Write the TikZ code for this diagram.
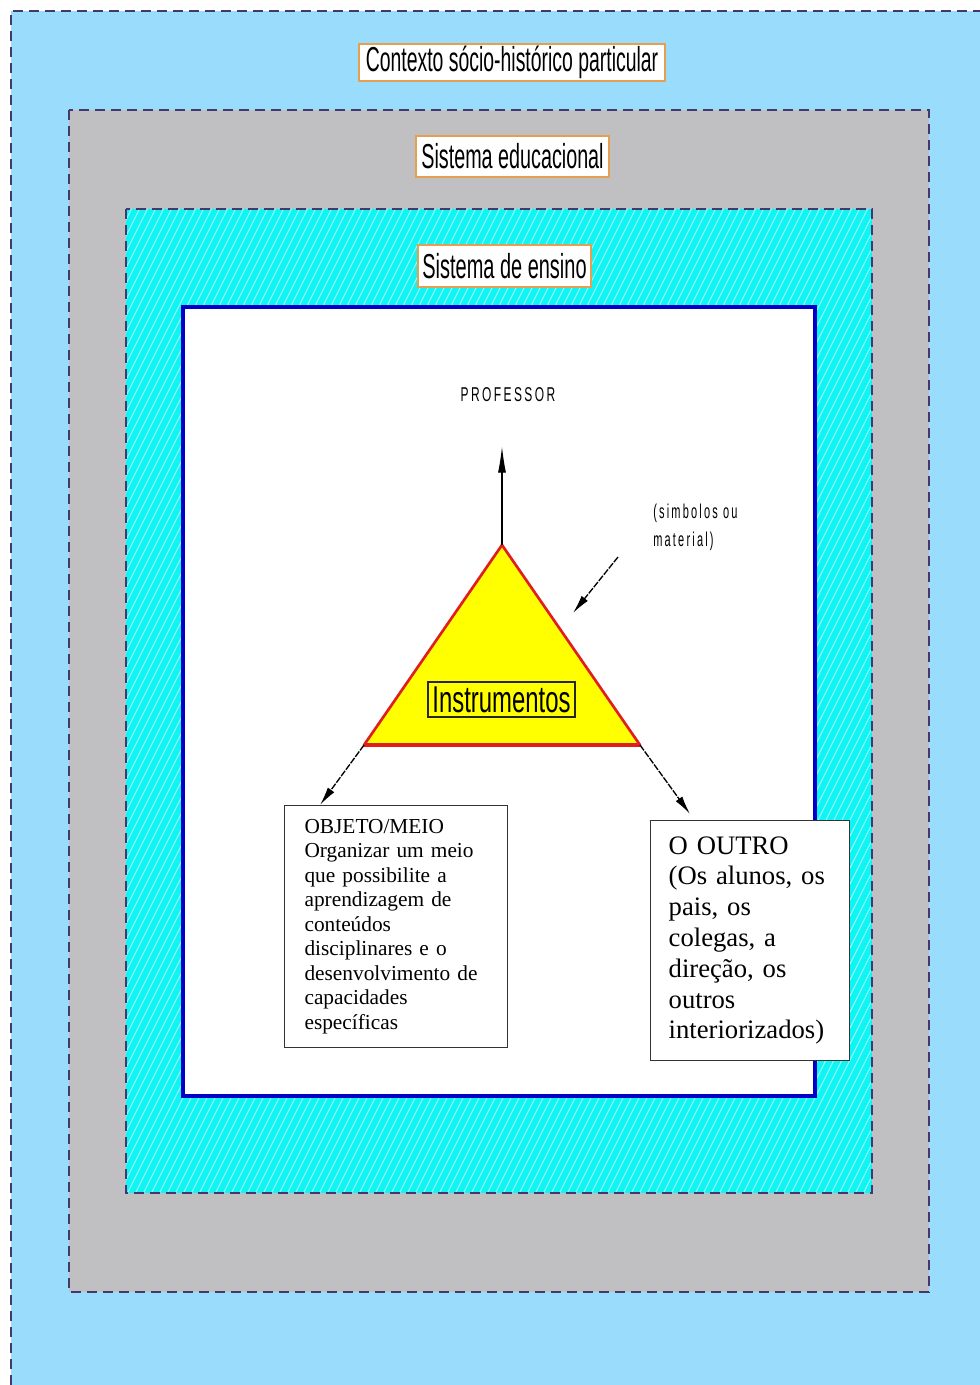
\documentclass[tikz,border=0pt]{standalone}
\usepackage{fontspec}
\setmainfont{Liberation Serif}
\setsansfont{Liberation Sans}
\newfontfamily\spacedsans[LetterSpace=20]{Liberation Sans}
\usepackage{graphicx}
\usetikzlibrary{arrows.meta}
\definecolor{ctxblue}{RGB}{153,220,252}
\definecolor{sysgray}{RGB}{192,192,194}
\definecolor{enscyan}{RGB}{16,244,244}
\definecolor{hatchcol}{RGB}{150,250,250}
\definecolor{dashcol}{RGB}{70,55,110}
\definecolor{boxblue}{RGB}{0,0,200}
\definecolor{lblorange}{RGB}{228,160,80}
\definecolor{triyellow}{RGB}{255,255,0}
\definecolor{trired}{RGB}{225,30,30}
\newcommand\condtxt[3]{\scalebox{#1}[1]{\fontsize{#2}{#2}\selectfont #3}}
\begin{document}
\begin{tikzpicture}[x=0.75pt,y=-0.75pt,
  dashborder/.style={draw=dashcol, line width=1.5pt, dash pattern=on 7.5pt off 4.5pt},
  labelbox/.style={draw=lblorange, line width=1.1pt, fill=white, inner sep=0pt, font=\sffamily},
  textbox/.style={draw=black!80, line width=0.8pt, fill=white, anchor=north west, align=left, font=\rmfamily},
  arrowline/.style={draw=black, line width=1pt, -{Latex[length=14pt,width=6pt]}},
  uparrow/.style={draw=black, line width=1pt, -{Latex[length=20pt,width=6pt]}},
  diagline/.style={arrowline, dash pattern=on 5pt off 1pt},
]
\useasboundingbox (0,0) rectangle (980,1385);
\fill[white] (0,0) rectangle (980,1385);
% outer context
\fill[ctxblue] (11,11) rectangle (980,1385);
\draw[dashborder] (11,1385) -- (11,11) -- (980,11);
% educational system
\draw[dashborder, fill=sysgray] (69,110) rectangle (929,1292);
% teaching system (hatched cyan)
\fill[enscyan] (126,209) rectangle (872,1193);
\begin{scope}
  \clip (126,209) rectangle (872,1193);
  \foreach \x in {-380,-372,...,880} \draw[hatchcol, line width=0.8pt] (\x,1200) -- ++(500,-1000);
\end{scope}
\draw[dashborder] (126,209) rectangle (872,1193);
% inner white area
\draw[draw=boxblue, line width=3pt, fill=white] (183,307) rectangle (815,1096);
% labels
\node[labelbox, minimum width=229.5pt, minimum height=27.75pt] (ctx) at (512,62.5) {\condtxt{0.56}{26pt}{Contexto sócio-histórico particular}};
\node[labelbox, minimum width=144.75pt, minimum height=30.75pt] (edu) at (512.5,156.5) {\condtxt{0.57}{26pt}{Sistema educacional}};
\node[labelbox, minimum width=129.75pt, minimum height=31.5pt] (ens) at (504.5,266) {\condtxt{0.576}{26pt}{Sistema de ensino}};
% triangle
\coordinate (A) at (502,545);
\coordinate (B) at (364,745);
\coordinate (C) at (640,745);
\filldraw[fill=triyellow, draw=trired, line width=2pt, line join=round] (A) -- (B) -- (C) -- cycle;
\draw[trired, line width=2.8pt] (B) -- (C);
\node[draw=black!85, line width=0.9pt, inner sep=0pt, minimum width=110.25pt, minimum height=26.25pt, font=\sffamily] (instr) at (501.5,699.5) {\condtxt{0.64}{28pt}{Instrumentos}};
% professor
\node[font=\spacedsans, inner sep=0pt] (prof) at (508,395) {\condtxt{0.6}{15pt}{PROFESSOR}};
\node[font=\spacedsans\fontsize{15pt}{21pt}\selectfont, inner sep=0pt, anchor=north west, align=left] (sym) at (653,504) {\condtxt{0.55}{15pt}{(simbolos ou}\\\condtxt{0.55}{15pt}{material)}};
% text boxes
\node[textbox, font=\fontsize{16pt}{18.4pt}\selectfont, text width=137pt, inner xsep=15pt, inner ysep=10pt, minimum height=181.5pt] (obj) at (284,805) {OBJETO/MEIO\\Organizar um meio\\que possibilite a\\aprendizagem de\\conteúdos\\disciplinares e o\\desenvolvimento de\\capacidades\\específicas};
\node[textbox, font=\fontsize{20pt}{23.1pt}\selectfont, text width=122pt, inner xsep=13.6pt, inner ysep=11.5pt, minimum height=180pt] (outro) at (650,820) {O OUTRO\\(Os alunos, os\\pais, os\\colegas, a\\direção, os\\outros\\interiorizados)};
% arrows
\coordinate (profTip) at (502,446);
\draw[uparrow] (A) -- (profTip);
\coordinate (symStart) at (618,557);
\coordinate (symTip) at (573,613);
\draw[diagline] (symStart) -- (symTip);
\coordinate (objTip) at (320,805);
\draw[diagline] (B) -- (objTip);
\coordinate (outroTip) at (690,814);
\draw[diagline] (C) -- (outroTip);
\end{tikzpicture}
\end{document}
